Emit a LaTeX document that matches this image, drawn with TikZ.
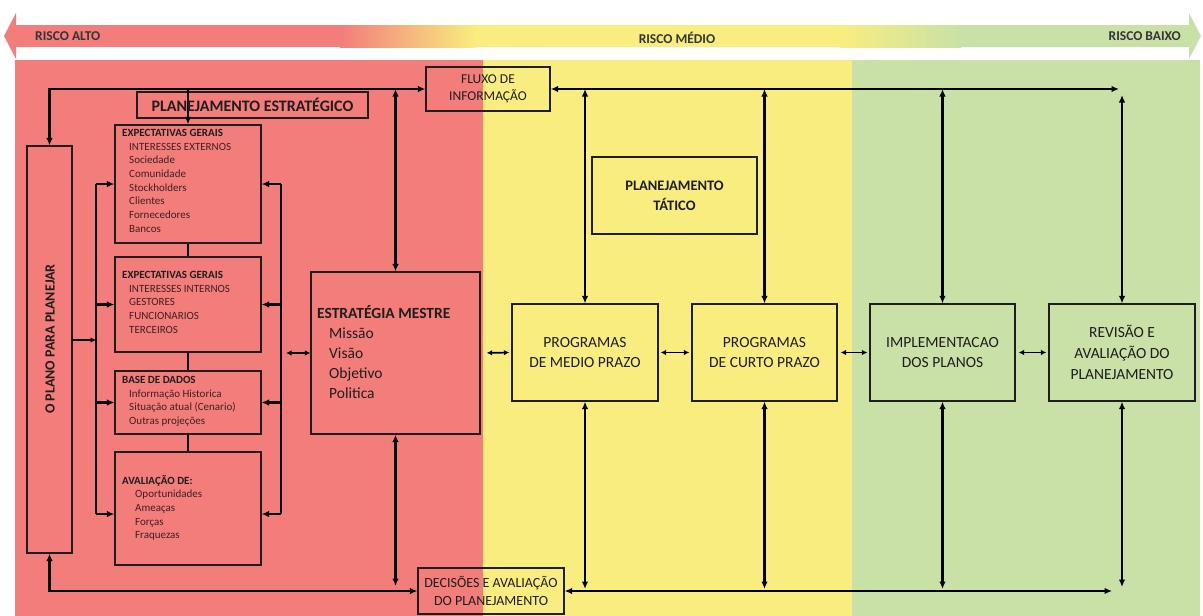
\documentclass[tikz,border=0pt]{standalone}
\usepackage{fontspec}
\setmainfont{Carlito}
\usetikzlibrary{arrows.meta,calc}
\definecolor{cred}{RGB}{242,125,123}
\definecolor{cyel}{RGB}{249,237,128}
\definecolor{cgrn}{RGB}{201,225,166}
\definecolor{ink}{RGB}{30,30,30}
\definecolor{itm}{RGB}{64,32,32}
\begin{document}
\begin{tikzpicture}[x=1pt,y=-1pt,
  bx/.style={draw=ink, line width=1.2pt, inner sep=0pt},
  wire/.style={line width=2.1pt, black},
  arr/.style={wire, -{Latex[length=7.5pt,width=6.5pt]}},
  dbl/.style={wire, {Latex[length=7.5pt,width=6.5pt]}-{Latex[length=7.5pt,width=6.5pt]}},
  sdbl/.style={line width=1.7pt, {Latex[length=5.5pt,width=5.5pt]}-{Latex[length=5.5pt,width=5.5pt]}},
  sarr/.style={line width=1.7pt, -{Latex[length=5.5pt,width=5.5pt]}},
  lst/.style={inner sep=0pt, anchor=north west, align=left, text=itm, font=\fontsize{11}{13.7}\selectfont},
  big/.style={inner sep=0pt, align=center, text=ink, font=\fontsize{15.5}{20}\selectfont},
  risco/.style={inner sep=0pt, text=ink!90, font=\fontsize{13.5}{14}\selectfont\bfseries}
]
\useasboundingbox (0,0) rectangle (1203,616);
% backgrounds
\fill[cred] (15,60) rectangle (483,616);
\fill[cyel] (483,60) rectangle (852,616);
\fill[cgrn] (852,60) rectangle (1200,616);
% risk arrow
\fill[cred] (12,25) rectangle (341,47);
\shade[left color=cred, right color=cyel] (340,25) rectangle (476,47);
\fill[cyel] (475,25) rectangle (841,47);
\shade[left color=cyel, right color=cgrn] (840,25) rectangle (961,47);
\fill[cgrn] (960,25) rectangle (1191,47);
\fill[cred] (16,13) -- (4,36) -- (16,59) -- cycle;
\fill[cgrn] (1189,13) -- (1201,36) -- (1189,59) -- cycle;
\node[risco, anchor=west] (ralto) at (35,36) {RISCO ALTO};
\node[risco] (rmedio) at (677,38) {RISCO MÉDIO};
\node[risco, anchor=east] (rbaixo) at (1181,36) {RISCO BAIXO};

% boxes
\node[bx, minimum width=124pt, minimum height=44pt] (fluxo) at (488,89) {};
\node[big, font=\fontsize{13.5}{17}\selectfont] (fluxoT) at (488,89) {FLUXO DE\\INFORMAÇÃO};
\node[bx, minimum width=231pt, minimum height=26pt] (pe) at (252.5,105) {};
\node[bx, minimum width=45pt, minimum height=407pt] (plano) at (49.5,349.5) {};
\node[bx, minimum width=146pt, minimum height=118pt] (eg1) at (188,184) {};
\node[bx, minimum width=146pt, minimum height=95pt] (eg2) at (188,304.5) {};
\node[bx, minimum width=146pt, minimum height=63pt] (bd) at (188,402.5) {};
\node[bx, minimum width=146pt, minimum height=113pt] (av) at (188,508.5) {};
\node[bx, minimum width=169pt, minimum height=162pt] (em) at (395.5,353) {};
\node[bx, minimum width=165pt, minimum height=77pt] (tat) at (674.5,195.5) {};
\node[bx, minimum width=146pt, minimum height=97pt] (mp) at (585,352.5) {};
\node[bx, minimum width=145pt, minimum height=97pt] (cp) at (764.5,352.5) {};
\node[bx, minimum width=145pt, minimum height=97pt] (im) at (942.5,352.5) {};
\node[bx, minimum width=146pt, minimum height=97pt] (rv) at (1122,352.5) {};
\node[bx, minimum width=146pt, minimum height=46pt] (dec) at (491,591) {};

% connectors
\draw[dbl] (plano.north) |- (fluxo.west);
\draw[arr] (eg1.north |- fluxo.west) -- (eg1.north);
\draw[dbl] (em.north) -- (em.north |- fluxo.west);
\coordinate (tr) at (1119,89);
\draw[dbl] (fluxo.east) -- (tr);
\draw[dbl] (mp.north) -- (mp.north |- fluxo.east);
\draw[dbl] (cp.north) -- (cp.north |- fluxo.east);
\draw[dbl] (im.north) -- (im.north |- fluxo.east);
\draw[dbl] (rv.north) -- ($(rv.north |- fluxo.east)+(0,6)$);

\draw[dbl] (plano.south) |- (dec.west);
\draw[dbl] (em.south) -- ($(em.south |- dec.west)+(0,-5)$);
\coordinate (br) at (1112,591);
\draw[dbl] (dec.east) -- (br);
\draw[dbl] (mp.south) -- ($(mp.south |- dec.east)+(0,-2)$);
\draw[dbl] (cp.south) -- ($(cp.south |- dec.east)+(0,-2)$);
\draw[dbl] (im.south) -- ($(im.south |- dec.east)+(0,-2)$);
\draw[dbl] (rv.south) -- ($(rv.south |- dec.east)+(0,-4)$);

% left bus
\coordinate (lbA) at (96,184);
\coordinate (lbB) at (96,514);
\draw[wire] (lbA) -- (lbB);
\draw[arr] (lbA) -- (eg1.west);
\draw[arr] (lbA |- eg2.west) -- (eg2.west);
\draw[arr] (lbA |- bd.west) -- (bd.west);
\draw[arr] (lbB) -- (lbB -| av.west);
\coordinate (pc) at (96,340);
\draw[sarr] (pc -| plano.east) -- (pc);
% right bus
\coordinate (rbA) at (281,184);
\coordinate (rbB) at (281,514);
\draw[wire] (rbA) -- (rbB);
\draw[arr] (rbA) -- (eg1.east);
\draw[arr] (rbA |- eg2.east) -- (eg2.east);
\draw[arr] (rbA |- bd.east) -- (bd.east);
\draw[arr] (rbB) -- (rbB -| av.east);
% stack links
\draw[wire] (eg1.south) -- (eg2.north);
\draw[wire] (eg2.south) -- (bd.north);
\draw[wire] (bd.south) -- (av.north);
% horizontal double arrows
\coordinate (emL) at (286,353);
\draw[sdbl] (emL) -- (em.west);
\draw[sdbl, shorten <=6pt, shorten >=2pt] (em.east) -- (mp.west);
\draw[sdbl, shorten <=2pt, shorten >=2pt] (mp.east) -- (cp.west);
\draw[sdbl, shorten <=3pt, shorten >=2pt] (cp.east) -- (im.west);
\draw[sdbl, shorten <=3pt, shorten >=2pt] (im.east) -- (rv.west);

% texts
\node[inner sep=0pt, text=ink, font=\fontsize{16}{18}\selectfont\bfseries] (peT) at (pe.center) {PLANEJAMENTO ESTRATÉGICO};
\node[inner sep=0pt, text=ink, rotate=90, font=\fontsize{14}{16}\selectfont\bfseries] (planoT) at (50,339) {O PLANO PARA PLANEJAR};
\node[lst] (eg1T) at (122,129) {\textbf{\color{ink}EXPECTATIVAS GERAIS}\\
\hspace*{7pt}INTERESSES EXTERNOS\\ \hspace*{7pt}Sociedade\\ \hspace*{7pt}Comunidade\\ \hspace*{7pt}Stockholders\\ \hspace*{7pt}Clientes\\ \hspace*{7pt}Fornecedores\\ \hspace*{7pt}Bancos};
\node[lst] (eg2T) at (122,271) {\textbf{\color{ink}EXPECTATIVAS GERAIS}\\
\hspace*{7pt}INTERESSES INTERNOS\\ \hspace*{7pt}GESTORES\\ \hspace*{7pt}FUNCIONARIOS\\ \hspace*{7pt}TERCEIROS};
\node[lst] (bdT) at (122,376) {\textbf{\color{ink}BASE DE DADOS}\\
\hspace*{7pt}Informação Historica\\ \hspace*{7pt}Situação atual (Cenario)\\ \hspace*{7pt}Outras projeções};
\node[lst] (avT) at (122,475) {\textbf{\color{ink}AVALIAÇÃO DE:}\\
\hspace*{13pt}Oportunidades\\ \hspace*{13pt}Ameaças\\ \hspace*{13pt}Forças\\ \hspace*{13pt}Fraquezas};
\node[big, anchor=north west, align=left] (emT) at (317,305) {\textbf{ESTRATÉGIA MESTRE}\\
\hspace*{12pt}Missão\\ \hspace*{12pt}Visão\\ \hspace*{12pt}Objetivo\\ \hspace*{12pt}Politica};
\node[big, font=\fontsize{14.5}{20}\selectfont\bfseries] (tatT) at (674.5,196) {PLANEJAMENTO\\TÁTICO};
\node[big] (mpT) at (mp.center) {PROGRAMAS\\DE MEDIO PRAZO};
\node[big] (cpT) at (cp.center) {PROGRAMAS\\DE CURTO PRAZO};
\node[big] (imT) at (im.center) {IMPLEMENTACAO\\DOS PLANOS};
\node[big, font=\fontsize{15.5}{21}\selectfont] (rvT) at (rv.center) {REVISÃO E\\AVALIAÇÃO DO\\PLANEJAMENTO};
\node[big, font=\fontsize{14}{18.5}\selectfont] (decT) at (dec.center) {DECISÕES E AVALIAÇÃO\\DO PLANEJAMENTO};
\end{tikzpicture}
\end{document}
